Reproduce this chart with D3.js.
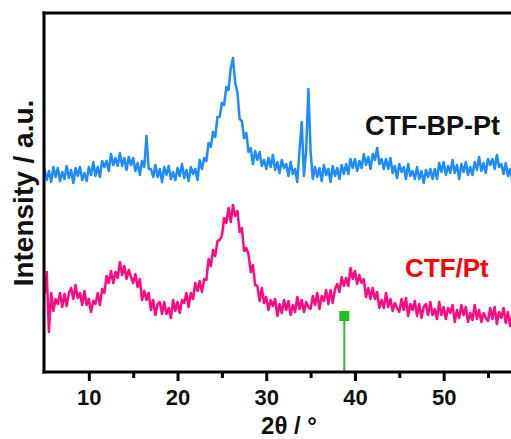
<!DOCTYPE html>
<html>
<head>
<meta charset="utf-8">
<script src="https://cdn.jsdelivr.net/npm/d3@7"></script>
<style>
  html, body { margin: 0; padding: 0; background: #fff; }
  svg { display: block; }
  text { font-family: "Liberation Sans", Arial, sans-serif; font-weight: bold; }
</style>
</head>
<body>
<svg id="chart" width="511" height="439"></svg>
<script>
// 2θ sampling grid (degrees): 5.00 to 58.00 every 0.25°
const twoThetaStart = 5, twoThetaStep = 0.25;

// CTF-BP-Pt intensity (a.u., offset trace)
const ctfBpPt = [
203,192,201,190,205,195,204,191,200,193,206,194,202,189,204,196,205,192,199,191,
205,197,210,196,205,195,211,205,211,201,218,207,214,206,219,206,214,202,215,207,
214,201,209,197,211,205,236,203,203,195,207,195,203,190,205,197,206,193,200,192,
204,196,208,194,202,191,205,198,203,192,212,203,214,211,229,225,240,235,255,255,
269,267,285,282,304,314,289,280,253,251,234,239,220,224,208,221,212,220,206,212,
203,214,205,217,202,210,199,212,204,208,196,210,198,203,190,222,250,196,222,283,
220,193,205,195,204,191,207,197,203,190,206,196,204,193,207,198,208,198,213,204,
213,201,211,204,218,207,215,203,218,212,224,208,213,203,213,203,214,199,206,194,
208,200,205,193,208,196,201,193,205,193,201,189,202,195,203,193,203,193,209,200,
210,197,206,199,212,199,207,193,208,200,210,197,205,197,210,202,215,201,209,199,
213,207,213,203,217,205,208,198,209,196,203,191,205
];

// CTF/Pt intensity (a.u.)
const ctfPt = [
78,100,40,79,61,73,68,79,65,78,66,79,84,73,87,74,79,67,81,67,
73,60,71,68,79,67,83,79,96,89,101,89,100,94,110,97,106,93,102,95,
89,98,85,93,72,81,72,79,62,72,57,68,70,58,70,58,64,54,72,61,
70,59,72,69,79,65,79,73,89,81,91,80,93,92,113,106,122,116,131,132,
136,154,149,164,150,167,156,161,140,144,121,124,118,100,107,87,86,71,84,69,
75,62,72,66,73,56,68,59,72,62,71,57,67,60,75,63,72,60,70,65,
63,76,67,79,63,76,71,82,68,82,69,83,88,80,95,86,94,86,104,93,
101,88,97,89,93,75,84,73,84,73,80,64,72,64,79,65,73,61,69,64,
60,73,62,74,56,68,62,71,56,68,54,65,68,57,70,57,63,53,70,57,
65,53,64,59,67,50,62,54,67,57,65,50,59,52,67,53,62,50,59,54,
51,64,53,65,48,60,54,64,49,60,46,58,61
];

// Reference reflection (Pt) marker
const refPeaks = [38.8];
const refHeight = [56];

const majorTicks = [10, 20, 30, 40, 50];
const minorTicks = [15, 25, 35, 45, 55];

const seriesLabels = ["CTF-BP-Pt", "CTF/Pt"];
const seriesColors = ["#1e8cff", "#ff0a80"];

const svg = d3.select("#chart");
const L = 44, T = 13, B = 372;

const x = d3.scaleLinear().domain([5, 60]).range([44.5, 44.5 + 55 * 8.87]);
const y = d3.scaleLinear().domain([0, 359]).range([B, T]);

const toPts = arr => arr.map((v, i) => [twoThetaStart + i * twoThetaStep, v]);
const line = d3.line().x(d => x(d[0])).y(d => y(d[1]));

// curves
svg.append("path").datum(toPts(ctfBpPt))
  .attr("d", line).attr("fill", "none")
  .attr("stroke", seriesColors[0]).attr("stroke-width", 2.5).attr("stroke-linejoin", "round");
svg.append("path").datum(toPts(ctfPt))
  .attr("d", line).attr("fill", "none")
  .attr("stroke", seriesColors[1]).attr("stroke-width", 2.5).attr("stroke-linejoin", "round");

// reference marker
refPeaks.forEach((p, i) => {
  svg.append("line")
    .attr("x1", x(p)).attr("x2", x(p))
    .attr("y1", y(0)).attr("y2", y(refHeight[i]))
    .attr("stroke", "#2bbf2b").attr("stroke-width", 2);
  svg.append("rect")
    .attr("x", x(p) - 5).attr("y", y(refHeight[i]) - 5)
    .attr("width", 10).attr("height", 10)
    .attr("fill", "#1fbf1f");
});

// axes
const minorAxis = d3.axisBottom(x).tickValues(minorTicks).tickSize(6).tickFormat("");
const majorAxis = d3.axisBottom(x).tickValues(majorTicks).tickSize(9).tickPadding(8).tickFormat(d3.format("d"));

const gMinor = svg.append("g").attr("transform", `translate(0,${B})`).call(minorAxis);
const gMajor = svg.append("g").attr("transform", `translate(0,${B})`).call(majorAxis);
[gMinor, gMajor].forEach(g => {
  g.select(".domain").remove();
  g.selectAll(".tick line").attr("stroke", "#000").attr("stroke-width", 3);
});
gMajor.selectAll(".tick text")
  .attr("fill", "#111")
  .style("font-size", "22px")
  .style("font-family", "'Liberation Sans', Arial, sans-serif")
  .style("font-weight", "bold");

// frame lines
svg.append("line").attr("x1", L - 1.5).attr("x2", 520).attr("y1", B).attr("y2", B)
  .attr("stroke", "#000").attr("stroke-width", 3);
svg.append("line").attr("x1", L - 1.5).attr("x2", 520).attr("y1", T).attr("y2", T)
  .attr("stroke", "#000").attr("stroke-width", 3);
svg.append("line").attr("x1", L).attr("x2", L).attr("y1", T - 1.5).attr("y2", B + 1.5)
  .attr("stroke", "#000").attr("stroke-width", 3);

// axis titles
svg.append("text")
  .attr("x", 289).attr("y", 434)
  .attr("text-anchor", "middle")
  .style("font-size", "24px").attr("fill", "#111")
  .text("2θ / °");

svg.append("text")
  .attr("transform", "translate(33,193) rotate(-90)")
  .attr("text-anchor", "middle")
  .style("font-size", "28px").attr("fill", "#111")
  .text("Intensity / a.u.");

// series labels
svg.append("text").attr("x", 365).attr("y", 135)
  .style("font-size", "27px").attr("fill", "#111")
  .text(seriesLabels[0]);
svg.append("text").attr("x", 405).attr("y", 277)
  .style("font-size", "26px").attr("fill", "#ff0000")
  .text(seriesLabels[1]);
</script>
</body>
</html>
